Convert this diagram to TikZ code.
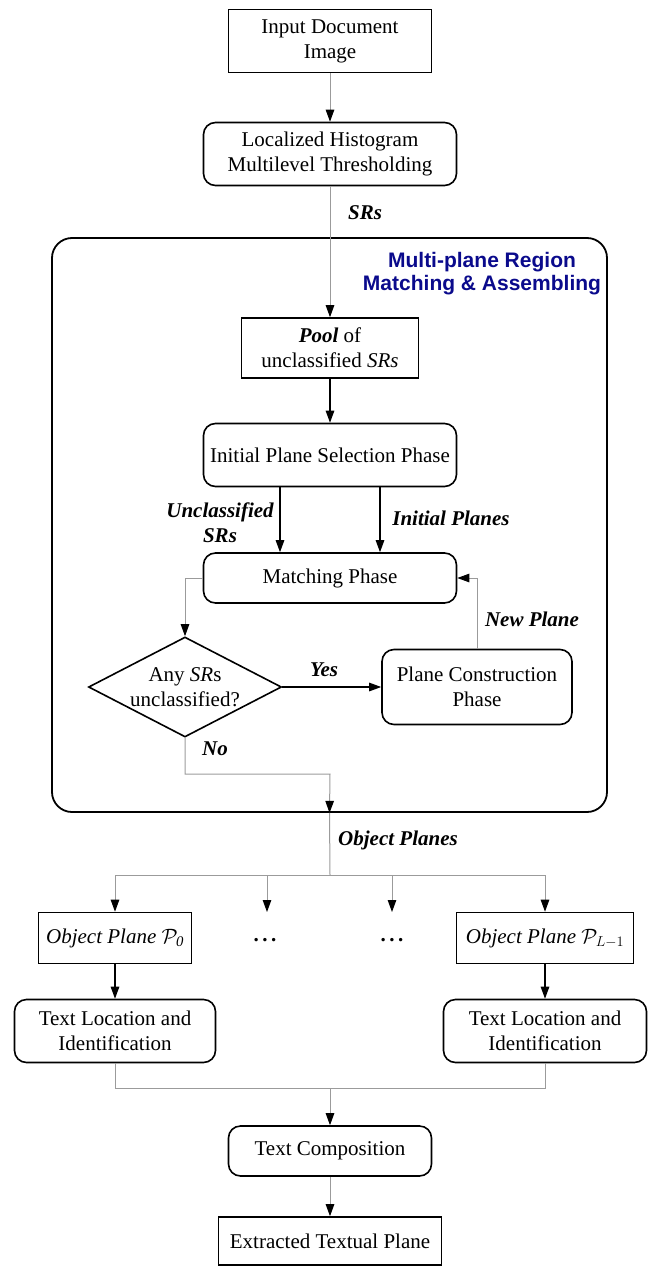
\documentclass[tikz,border=0pt]{standalone}
\usepackage{fontspec}
\setmainfont{Liberation Serif}
\newfontfamily\titlefont{Liberation Sans}
\usetikzlibrary{arrows.meta,shapes.geometric,calc}
\definecolor{lgray}{RGB}{155,155,155}
\definecolor{navytitle}{RGB}{10,10,140}
\tikzset{
  base/.style={draw=black, line width=1.6pt, align=center, inner sep=0pt,
    font=\fontsize{21}{25}\selectfont},
  sqbox/.style={base, rectangle},
  rbox/.style={base, rectangle, rounded corners=12pt},
  lbl/.style={font=\fontsize{21}{25}\selectfont\bfseries\itshape, align=center, inner sep=0pt},
  tip/.style={-{Triangle[length=12pt,width=8.5pt,color=black]}},
  gline/.style={draw=lgray, line width=1pt},
  bline/.style={draw=black, line width=1.2pt},
}
\begin{document}
\begin{tikzpicture}[x=1pt,y=-1pt]
\useasboundingbox (0,0) rectangle (649,1266);
% container
\node[draw=black, line width=1.8pt, rounded corners=20pt, minimum width=555pt, minimum height=574pt, inner sep=0pt] (group) at (329.5,525) {};
\node[font=\fontsize{21}{23}\selectfont\titlefont\bfseries, text=navytitle, align=center, inner sep=0pt] (title) at (482,274) {Multi-plane Region\\Matching \& Assembling};
% nodes
\node[sqbox, minimum width=203pt, minimum height=63pt] (in) at (330,41) {Input Document\\Image};
\node[rbox, minimum width=253pt, minimum height=63pt] (loc) at (330,154) {Localized Histogram\\Multilevel Thresholding};
\node[sqbox, minimum width=177pt, minimum height=60pt] (pool) at (330,348) {\textbf{\textit{Pool}} of\\unclassified \textit{SRs}};
\node[rbox, minimum width=253pt, minimum height=63pt] (init) at (330,455) {Initial Plane Selection Phase};
\node[rbox, minimum width=253pt, minimum height=50pt] (match) at (330,578) {Matching Phase};
\node[base, diamond, aspect=1.93, minimum width=193pt, minimum height=100pt] (dia) at (185,687) {Any \textit{SR}s\\unclassified?};
\node[rbox, minimum width=190pt, minimum height=75pt] (pcp) at (477,687) {Plane Construction\\Phase};
\node[sqbox, minimum width=153pt, minimum height=51pt] (op1) at (115,938) {\textit{Object Plane} $\mathcal{P}_{\mathit{0}}$};
\node[sqbox, minimum width=177pt, minimum height=51pt] (op2) at (545,938) {\textit{Object Plane} $\mathcal{P}_{L-1}$};
\node[font=\fontsize{21}{25}\selectfont\bfseries, inner sep=0pt] (dots1) at (265,940) {.\,.\,.};
\node[font=\fontsize{21}{25}\selectfont\bfseries, inner sep=0pt] (dots2) at (392,940) {.\,.\,.};
\node[rbox, minimum width=201pt, minimum height=63pt] (tl1) at (115,1031) {Text Location and\\Identification};
\node[rbox, minimum width=203pt, minimum height=63pt] (tl2) at (545,1031) {Text Location and\\Identification};
\node[rbox, minimum width=203pt, minimum height=50pt] (comp) at (330,1151) {Text Composition};
\node[sqbox, minimum width=223pt, minimum height=48pt] (ext) at (330,1241) {Extracted Textual Plane};
% labels
\node[lbl] (lsrs) at (365,213) {\textbf{\textit{SR}s}};
\node[lbl] (lunc) at (220,523) {Unclassified\\SRs};
\node[lbl] (linit) at (451,518) {Initial Planes};
\node[lbl] (lnew) at (532,619) {New Plane};
\node[lbl] (lyes) at (324,670) {Yes};
\node[lbl] (lno) at (215,749) {No};
\node[lbl] (lobj) at (398,840) {Object Planes};
% coordinates
\coordinate (j1) at (185,774);
\coordinate (j2) at (330,774);
\coordinate (split) at (330,875);
\coordinate (sl) at (115,875);
\coordinate (sr) at (545,875);
\coordinate (d1t) at (267,875);
\coordinate (d1b) at (267,912);
\coordinate (d2t) at (392,875);
\coordinate (d2b) at (392,912);
\coordinate (ml) at (115,1088);
\coordinate (mr) at (545,1088);
\coordinate (mc) at (330,1088);
% connectors
\draw[gline, tip] (in) -- (loc);
\draw[gline, tip] (loc) -- (pool);
\draw[bline, tip] (pool) -- (init);
\draw[bline, tip] ([xshift=-50pt]init.south) -- ([xshift=-50pt]match.north);
\draw[bline, tip] ([xshift=50pt]init.south) -- ([xshift=50pt]match.north);
\draw[gline, tip] (match.west) -| (dia.north);
\draw[bline, tip] (dia.east) -- (pcp.west);
\draw[gline, tip] (pcp.north) |- (match.east);
\draw[gline, tip] (dia.south) -- (j1) -- (j2) -- (group.south);
\draw[gline] (group.south) -- (split);
\draw[gline] (sl) -- (sr);
\draw[gline, tip] (sl) -- (op1.north);
\draw[gline, tip] (sr) -- (op2.north);
\draw[gline, tip] (d1t) -- (d1b);
\draw[gline, tip] (d2t) -- (d2b);
\draw[bline, tip] (op1) -- (tl1);
\draw[bline, tip] (op2) -- (tl2);
\draw[gline] (tl1.south) -- (ml) -- (mr) -- (tl2.south);
\draw[gline, tip] (mc) -- (comp.north);
\draw[gline, tip] (comp) -- (ext);
\end{tikzpicture}
\end{document}
